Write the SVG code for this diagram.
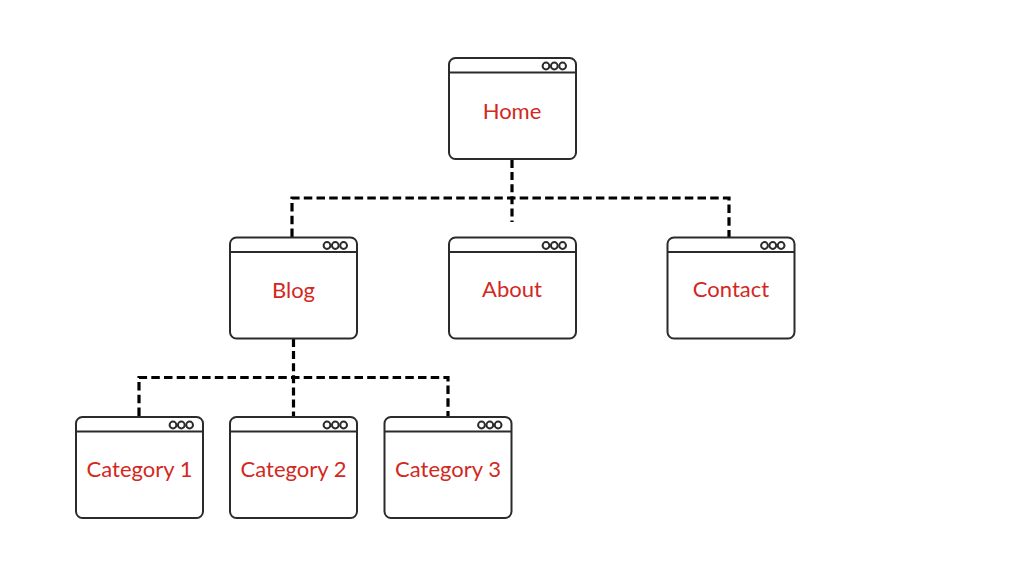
<svg xmlns="http://www.w3.org/2000/svg" width="1024" height="576" viewBox="0 0 1024 576">
<style>
.f{fill:#fff;stroke:#2b2b2b;stroke-width:2}
.h{fill:none;stroke:#2b2b2b;stroke-width:2}
.d{fill:#fff;stroke:#2b2b2b;stroke-width:2}
.t{fill:#d2281e;font-family:"Lato","Liberation Sans",sans-serif;font-size:22px;text-anchor:middle}
.c{fill:none;stroke:#000;stroke-width:3.2;stroke-dasharray:8.5 4.2}
.v{fill:none;stroke:#000;stroke-width:3.2;stroke-dasharray:8 4.1}
</style>
<defs>
<g id="win">
<rect class="f" x="0" y="0" width="127" height="101" rx="6.5"/>
<path class="h" d="M0 14.500H127"/>
<circle class="d" cx="97" cy="8" r="3.4"/>
<circle class="d" cx="105.300" cy="8" r="3.4"/>
<circle class="d" cx="113.600" cy="8" r="3.4"/>
</g>
</defs>
<rect width="1024" height="576" fill="#fff"/>
<g id="connectors">
<path class="v" d="M512 160V222"/>
<path class="c" d="M292 237V198H729V237"/>
<path class="v" d="M293.500 339V416.500"/>
<path class="c" d="M139 416V377.500H448V416"/>
</g>
<g id="home"><use href="#win" x="449" y="58"/><text class="t" x="512" y="118.500">Home</text></g>
<g id="blog"><use href="#win" x="230" y="237.500"/><text class="t" x="293.500" y="297.500">Blog</text></g>
<g id="about"><use href="#win" x="449" y="237.500"/><text class="t" x="512" y="296.500">About</text></g>
<g id="contact"><use href="#win" x="667.500" y="237.500"/><text class="t" x="731" y="296.500">Contact</text></g>
<g id="category1"><use href="#win" x="76" y="417"/><text class="t" x="139.500" y="476.500">Category 1</text></g>
<g id="category2"><use href="#win" x="230" y="417"/><text class="t" x="293.500" y="476.500">Category 2</text></g>
<g id="category3"><use href="#win" x="384.500" y="417"/><text class="t" x="448" y="476.500">Category 3</text></g>
</svg>
